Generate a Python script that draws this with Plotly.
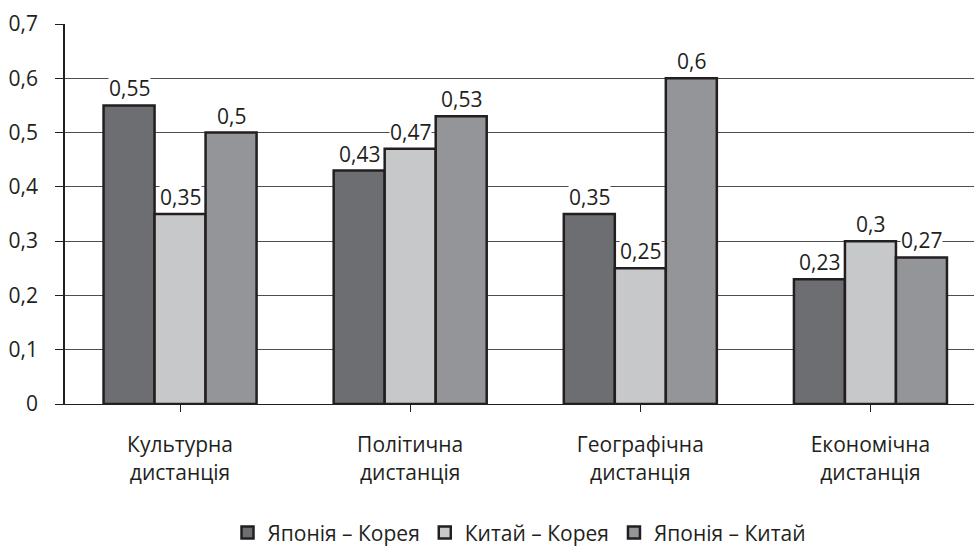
import plotly.graph_objects as go

categories = ["Культурна<br>дистанція", "Політична<br>дистанція", "Географічна<br>дистанція", "Економічна<br>дистанція"]
series_names = ["Японія – Корея", "Китай – Корея", "Японія – Китай"]
japan_korea = [0.55, 0.43, 0.35, 0.23]
china_korea = [0.35, 0.47, 0.25, 0.30]
japan_china = [0.50, 0.53, 0.60, 0.27]
series_values = [japan_korea, china_korea, japan_china]
colors = ["#6d6e71", "#c7c8ca", "#939598"]
y_ticks = [0, 0.1, 0.2, 0.3, 0.4, 0.5, 0.6, 0.7]

FONT = "Open Sans"
FS = 21
bargap = 0.335
bar_w = (1 - bargap) / len(series_values)

fig = go.Figure()
x_idx = list(range(len(categories)))
for name, vals, col in zip(series_names, series_values, colors):
    fig.add_trace(go.Bar(
        x=x_idx, y=vals, name=name,
        marker=dict(color=col, line=dict(color="#231f20", width=2.5)),
    ))

annotations = []
for j, vals in enumerate(series_values):
    for i, v in enumerate(vals):
        annotations.append(dict(
            x=i + (j - 1) * bar_w, y=v, xref="x", yref="y",
            text=("%g" % v).replace(".", ","),
            showarrow=False, yanchor="bottom", yshift=2,
            bgcolor="white", borderpad=0,
            font=dict(family=FONT, size=FS, color="#231f20"),
        ))

fig.update_layout(
    width=974, height=549,
    margin=dict(l=65, r=0, t=24, b=145, autoexpand=False),
    paper_bgcolor="white", plot_bgcolor="white",
    barmode="group", bargap=bargap, bargroupgap=0,
    separators=", ",
    font=dict(family=FONT, size=FS, color="#231f20"),
    showlegend=True,
    legend=dict(orientation="h", x=0.5, xanchor="center", y=-0.339, yanchor="middle",
                font=dict(family=FONT, size=FS, color="#231f20"), itemwidth=30),
    annotations=annotations,
)
fig.update_xaxes(
    tickmode="array", tickvals=x_idx, ticktext=categories,
    range=[-0.5, 3.45], tickson="boundaries",
    ticks="outside", ticklen=7, tickcolor="#231f20",
    showline=True, linecolor="#231f20", linewidth=1,
    showgrid=False, zeroline=False, automargin=False,
    ticklabelstandoff=15,
    tickfont=dict(family=FONT, size=FS, color="#231f20"),
)
fig.update_yaxes(
    range=[0, 0.7], tickvals=y_ticks,
    ticks="outside", ticklen=8, tickcolor="#231f20",
    showline=True, linecolor="#231f20", linewidth=1.5,
    showgrid=True, gridcolor="#4d4d4d", gridwidth=1,
    zeroline=False, automargin=False,
    ticklabelstandoff=13,
    tickfont=dict(family=FONT, size=FS, color="#231f20"),
)

fig.write_html(
    "out.html",
    config={"displayModeBar": False},
    post_script="document.body.style.margin='0';document.body.style.overflow='hidden';",
)
